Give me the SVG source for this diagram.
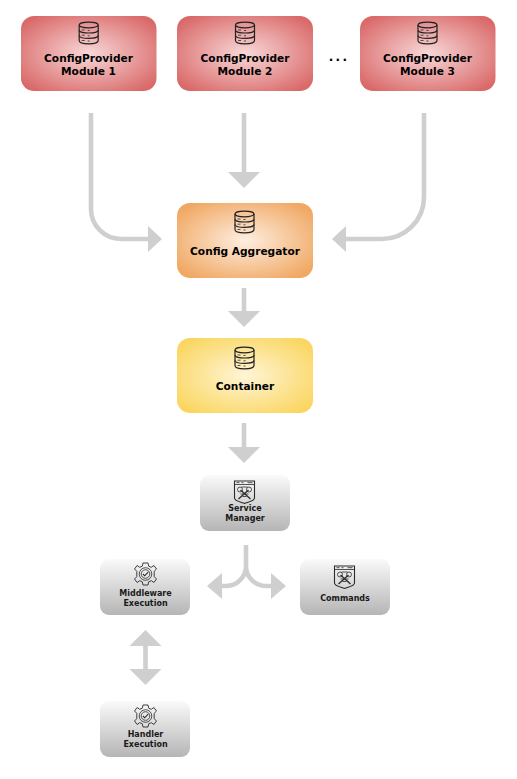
<svg xmlns="http://www.w3.org/2000/svg" width="517" height="779" viewBox="0 0 517 779">
<style>
.t{font-family:"DejaVu Sans",Verdana,sans-serif;font-weight:700;fill:#000;text-anchor:middle}
.big{font-size:10.600px}
.small{font-size:8px;fill:#1a1a1a}
.c{fill:none;stroke:#cfcfcf;stroke-width:4.600}
.h{fill:#cfcfcf}
.i{fill:none;stroke:#2a2a2a;stroke-width:.8}
.ib{fill:none;stroke:#222;stroke-width:1.200}
</style>
<defs>
<radialGradient id="red" cx="50%" cy="50%" r="62%"><stop offset="0" stop-color="#f8d8d8"/><stop offset="1" stop-color="#da6a6a"/></radialGradient>
<radialGradient id="org" cx="50%" cy="50%" r="62%"><stop offset="0" stop-color="#feeee0"/><stop offset="1" stop-color="#f0a863"/></radialGradient>
<radialGradient id="yel" cx="50%" cy="50%" r="62%"><stop offset="0" stop-color="#fff5d6"/><stop offset="1" stop-color="#fad661"/></radialGradient>
<linearGradient id="gry" x1="0" y1="0" x2="0" y2="1"><stop offset="0" stop-color="#fafafa"/><stop offset="1" stop-color="#b5b5b5"/></linearGradient>
<g id="db">
<ellipse class="ib" cx="0" cy="-8" rx="9.500" ry="2.800"/>
<path class="ib" d="M-9.500-8V7.500C-9.500 9.800-5 10.800 0 10.800S9.500 9.800 9.500 7.500V-8"/>
<path class="ib" d="M-9.500-2.800C-9.500-.9-5 0 0 0S9.500-.9 9.500-2.800M-9.500 2.400C-9.500 4.300-5 5.300 0 5.300S9.500 4.300 9.500 2.400"/>
<path class="i" d="M-7-3h3M-7 2.200h3M-7 7.500h3M-1-2.500h2M-1 2.800h2M-1 8h2"/>
</g>
<g id="win">
<path class="i" style="stroke-width:1.100" d="M-10-11H10V6C10 9 4 10 0 11.500C-4 10-10 9-10 6Z"/>
<path class="i" d="M-10-7.500H10"/>
<path class="i" d="M-8-9.300h3M-3-9.300h2M3-9.300h5"/>
<path class="ib" style="stroke-width:1.500;stroke:#333" d="M-6 7L4-2M6 7L-4-2"/>
<circle class="i" cx="-4.500" cy="-2.500" r="2.500"/>
<circle class="i" cx="4.500" cy="-2.500" r="2.500"/>
<path class="i" d="M-3-5h6M-4 2h8M-2 4.500h4"/>
</g>
<g id="gear">
<path class="i" style="stroke-width:.9" d="M-2.500-11H2.500L3.200-7.800L5.800-6.700L8.400-8.500L11-5L8.700-2.700V2.700L11 5L8.400 8.500L5.800 6.700L3.200 7.800L2.500 11H-2.500L-3.200 7.800L-5.800 6.700L-8.400 8.500L-11 5L-8.700 2.700V-2.700L-11-5L-8.400-8.500L-5.800-6.700L-3.200-7.800Z"/>
<circle class="i" r="6.300"/>
<circle class="i" r="4.300"/>
<path class="i" style="stroke-width:1.100" d="M-2.500 0L-.8 1.800L2.700-1.800"/>
</g>
</defs>

<g id="connectors">
<path class="c" d="M91 113V209A30 30 0 0 0 121 239H150"/>
<path class="h" d="M148 226L162 239L148 252Z"/>
<path class="c" d="M244 113V174"/>
<path class="h" d="M228 172H260L244 188Z"/>
<path class="c" d="M424 113V197A42 42 0 0 1 382 239H346"/>
<path class="h" d="M346 226L332 239L346 252Z"/>
<path class="c" d="M244 288V313"/>
<path class="h" d="M228 311H260L244 327Z"/>
<path class="c" d="M244 423V449"/>
<path class="h" d="M228 447H260L244 463Z"/>
<path class="c" d="M246 545V566A20 20 0 0 1 226 586H220M246 566A20 20 0 0 0 266 586H273"/>
<path class="h" d="M222 573L207 586L222 599Z"/>
<path class="h" d="M271 573L286 586L271 599Z"/>
<path class="c" d="M145.500 644V671"/>
<path class="h" d="M145.500 630L161.500 646H129.500Z"/>
<path class="h" d="M145.500 685L161.500 669H129.500Z"/>
</g>

<g id="module1"><rect x="21" y="16" width="135.500" height="75" rx="13" fill="url(#red)"/><use href="#db" x="88.700" y="33"/><text class="t big" x="88.500" y="62">ConfigProvider</text><text class="t big" x="88.500" y="75">Module 1</text></g>
<g id="module2"><rect x="177" y="16" width="136" height="75" rx="13" fill="url(#red)"/><use href="#db" x="245" y="33"/><text class="t big" x="245" y="62">ConfigProvider</text><text class="t big" x="245" y="75">Module 2</text></g>
<g id="ellipsis"><text class="t" font-size="12" letter-spacing="2.200" x="339" y="61">...</text></g>
<g id="module3"><rect x="360" y="16" width="135.500" height="75" rx="13" fill="url(#red)"/><use href="#db" x="427.500" y="33"/><text class="t big" x="427.500" y="62">ConfigProvider</text><text class="t big" x="427.500" y="75">Module 3</text></g>
<g id="aggregator"><rect x="177" y="203" width="136" height="75" rx="13" fill="url(#org)"/><use href="#db" x="244.500" y="222"/><text class="t big" x="245" y="255">Config Aggregator</text></g>
<g id="container"><rect x="177" y="338" width="136" height="75" rx="13" fill="url(#yel)"/><use href="#db" x="244.500" y="358"/><text class="t big" x="245" y="390">Container</text></g>
<g id="service-manager"><rect x="200" y="475" width="90" height="56" rx="9" fill="url(#gry)"/><use href="#win" x="244.500" y="492"/><text class="t small" x="245" y="511">Service</text><text class="t small" x="245" y="521">Manager</text></g>
<g id="commands"><rect x="300" y="559" width="90" height="56" rx="9" fill="url(#gry)"/><use href="#win" x="344.500" y="577"/><text class="t small" x="345" y="601">Commands</text></g>
<g id="middleware"><rect x="100" y="559" width="90" height="56" rx="9" fill="url(#gry)"/><use href="#gear" x="145.500" y="574"/><text class="t small" x="145.500" y="596">Middleware</text><text class="t small" x="145.500" y="606">Execution</text></g>
<g id="handler"><rect x="100" y="701" width="90" height="56" rx="9" fill="url(#gry)"/><use href="#gear" x="145.500" y="716"/><text class="t small" x="145.500" y="737">Handler</text><text class="t small" x="145.500" y="747">Execution</text></g>
</svg>
